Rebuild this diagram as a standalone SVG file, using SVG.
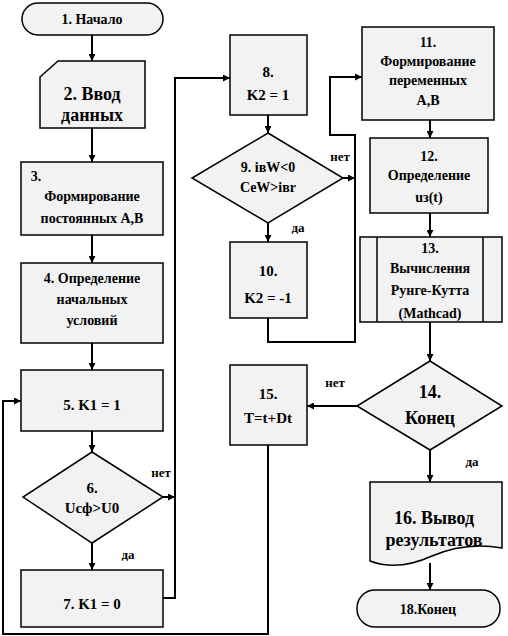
<svg xmlns="http://www.w3.org/2000/svg" width="508" height="636" viewBox="0 0 508 636">
<defs>
<marker id="ah" viewBox="0 0 10 10" refX="10" refY="5" markerWidth="7" markerHeight="7" markerUnits="userSpaceOnUse" orient="auto">
<path d="M0,0 L10,5 L0,10 Z" fill="#000"/>
</marker>
</defs>
<rect width="508" height="636" fill="#fff"/>
<g id="connectors" fill="none" stroke="#000" stroke-width="2" marker-end="url(#ah)">
<line x1="92" y1="35" x2="92" y2="61"/>
<line x1="92" y1="128" x2="92" y2="162"/>
<line x1="92" y1="235" x2="92" y2="263"/>
<line x1="92" y1="343" x2="92" y2="370"/>
<line x1="92" y1="431" x2="92" y2="452"/>
<line x1="92" y1="543" x2="92" y2="570"/>
<line x1="163" y1="497" x2="175" y2="497"/>
<polyline points="163,598 175,598 175,78 230,78"/>
<line x1="268" y1="115" x2="268" y2="133"/>
<line x1="268" y1="223" x2="268" y2="242"/>
<line x1="343" y1="178" x2="355" y2="178"/>
<polyline points="268,318 268,342 355,342 355,135 330,135 330,77 362,77"/>
<line x1="430" y1="120" x2="430" y2="138"/>
<line x1="430" y1="213" x2="430" y2="237"/>
<line x1="430" y1="322" x2="430" y2="361"/>
<line x1="357" y1="406" x2="307" y2="406"/>
<line x1="430" y1="450" x2="430" y2="482"/>
<line x1="430" y1="563" x2="430" y2="590"/>
<polyline points="268,445 268,634 3,634 3,401 21,401"/>
</g>
<g id="labels" font-family="Liberation Serif" font-weight="bold" font-size="13" text-anchor="middle" fill="#000">
<text x="161" y="477">нет</text>
<text x="128" y="559">да</text>
<text x="340" y="161">нет</text>
<text x="298" y="232">да</text>
<text x="335" y="387">нет</text>
<text x="472" y="466">да</text>
</g>
<g id="n1" font-family="Liberation Serif" font-weight="bold" font-size="14" text-anchor="middle">
<rect x="22" y="3" width="141" height="32" rx="16" fill="#f2f2f2" stroke="#000" stroke-width="1.5"/>
<text x="92" y="24">1. Начало</text>
</g>
<g id="n2" font-family="Liberation Serif" font-weight="bold" font-size="18" text-anchor="middle">
<path d="M40,77 L58,61 L145,61 L145,128 L40,128 Z" fill="#f2f2f2" stroke="#000" stroke-width="1.5"/>
<text x="92" y="100">2. Ввод</text>
<text x="92" y="121">данных</text>
</g>
<g id="n3" font-family="Liberation Serif" font-weight="bold" font-size="14" text-anchor="middle">
<rect x="21" y="162" width="142" height="73" fill="#f2f2f2" stroke="#000" stroke-width="1.5"/>
<text x="36" y="181">3.</text>
<text x="92" y="201">Формирование</text>
<text x="92" y="223">постоянных А,В</text>
</g>
<g id="n4" font-family="Liberation Serif" font-weight="bold" font-size="14" text-anchor="middle">
<rect x="21" y="263" width="142" height="80" fill="#f2f2f2" stroke="#000" stroke-width="1.5"/>
<text x="92" y="283">4. Определение</text>
<text x="92" y="304">начальных</text>
<text x="92" y="325">условий</text>
</g>
<g id="n5" font-family="Liberation Serif" font-weight="bold" font-size="15" text-anchor="middle">
<rect x="21" y="370" width="142" height="61" fill="#f2f2f2" stroke="#000" stroke-width="1.5"/>
<text x="92" y="410">5. K1 = 1</text>
</g>
<g id="n6" font-family="Liberation Serif" font-weight="bold" font-size="15" text-anchor="middle">
<polygon points="92,452 163,497 92,543 23,497" fill="#f2f2f2" stroke="#000" stroke-width="1.5"/>
<text x="92" y="493">6.</text>
<text x="92" y="513">Uсф&gt;U0</text>
</g>
<g id="n7" font-family="Liberation Serif" font-weight="bold" font-size="15" text-anchor="middle">
<rect x="21" y="570" width="142" height="57" fill="#f2f2f2" stroke="#000" stroke-width="1.5"/>
<text x="92" y="609">7. K1 = 0</text>
</g>
<g id="n8" font-family="Liberation Serif" font-weight="bold" font-size="15" text-anchor="middle">
<rect x="230" y="35" width="77" height="80" fill="#f2f2f2" stroke="#000" stroke-width="1.5"/>
<text x="268" y="77">8.</text>
<text x="268" y="100">K2 = 1</text>
</g>
<g id="n9" font-family="Liberation Serif" font-weight="bold" font-size="14" text-anchor="middle">
<polygon points="268,133 343,178 268,223 192,178" fill="#f2f2f2" stroke="#000" stroke-width="1.5"/>
<text x="268" y="172">9. iвW&lt;0</text>
<text x="268" y="192">CeW&gt;iвr</text>
</g>
<g id="n10" font-family="Liberation Serif" font-weight="bold" font-size="15" text-anchor="middle">
<rect x="230" y="242" width="77" height="76" fill="#f2f2f2" stroke="#000" stroke-width="1.5"/>
<text x="268" y="276">10.</text>
<text x="268" y="303">K2 = -1</text>
</g>
<g id="n11" font-family="Liberation Serif" font-weight="bold" font-size="14" text-anchor="middle">
<rect x="362" y="27" width="132" height="93" fill="#f2f2f2" stroke="#000" stroke-width="1.5"/>
<text x="428" y="47">11.</text>
<text x="428" y="66">Формирование</text>
<text x="428" y="85">переменных</text>
<text x="428" y="105">А,В</text>
</g>
<g id="n12" font-family="Liberation Serif" font-weight="bold" font-size="14" text-anchor="middle">
<rect x="370" y="138" width="118" height="75" fill="#f2f2f2" stroke="#000" stroke-width="1.5"/>
<text x="429" y="161">12.</text>
<text x="429" y="180">Определение</text>
<text x="429" y="202">uз(t)</text>
</g>
<g id="n13" font-family="Liberation Serif" font-weight="bold" font-size="14" text-anchor="middle">
<rect x="360" y="237" width="142" height="85" fill="#f2f2f2" stroke="#000" stroke-width="1.5"/>
<line x1="377" y1="237" x2="377" y2="322" stroke="#000" stroke-width="1.5"/>
<line x1="483" y1="237" x2="483" y2="322" stroke="#000" stroke-width="1.5"/>
<text x="430" y="253">13.</text>
<text x="430" y="273">Вычисления</text>
<text x="430" y="295">Рунге-Кутта</text>
<text x="430" y="318">(Mathcad)</text>
</g>
<g id="n14" font-family="Liberation Serif" font-weight="bold" font-size="18" text-anchor="middle">
<polygon points="430,361 502,406 430,450 357,406" fill="#f2f2f2" stroke="#000" stroke-width="1.5"/>
<text x="430" y="398">14.</text>
<text x="430" y="424">Конец</text>
</g>
<g id="n15" font-family="Liberation Serif" font-weight="bold" font-size="15" text-anchor="middle">
<rect x="230" y="365" width="77" height="80" fill="#f2f2f2" stroke="#000" stroke-width="1.5"/>
<text x="268" y="399">15.</text>
<text x="268" y="423">T=t+Dt</text>
</g>
<g id="n16" font-family="Liberation Serif" font-weight="bold" font-size="18" text-anchor="middle">
<path d="M370,482 H502 V548 C480,544 455,546 432,556 C410,566 388,568 370,561 Z" fill="#f2f2f2" stroke="#000" stroke-width="1.5"/>
<text x="434" y="524">16. Вывод</text>
<text x="434" y="546">результатов</text>
</g>
<g id="n18" font-family="Liberation Serif" font-weight="bold" font-size="14" text-anchor="middle">
<rect x="357" y="590" width="143" height="37" rx="18" fill="#f2f2f2" stroke="#000" stroke-width="1.5"/>
<text x="428" y="614">18.Конец</text>
</g>
</svg>
